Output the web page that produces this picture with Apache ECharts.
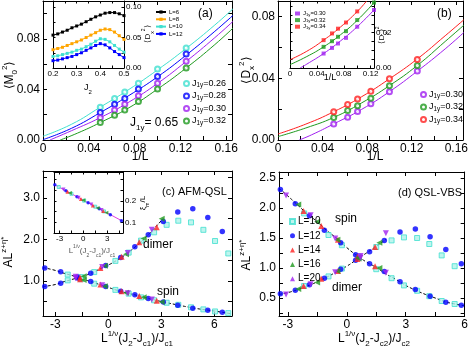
<!DOCTYPE html>
<html>
<head>
<meta charset="utf-8">
<script src="https://cdn.jsdelivr.net/npm/echarts@6/dist/echarts.min.js"></script>
<style>
  html, body { margin: 0; padding: 0; background: #fff; }
  #chart { width: 471px; height: 349px; }
</style>
</head>
<body>
<div id="chart"></div>
<script>
const FONT = '"Liberation Sans", Arial, sans-serif';

// ---------------- (a) <M0^2> vs 1/L ----------------
const invL = [0.05, 0.0625, 0.0714, 0.0833, 0.1, 0.125, 0.1667];
const aM026 = [0.0260, 0.0328, 0.0380, 0.0450, 0.0562, 0.0728, 0.1046];
const aM028 = [0.0217, 0.0283, 0.0328, 0.0403, 0.0503, 0.0680, 0.0993];
const aM030 = [0.0177, 0.0238, 0.0283, 0.0350, 0.0450, 0.0623, 0.0946];
const aM032 = [0.0138, 0.0196, 0.0238, 0.0305, 0.0403, 0.0570, 0.0893];
const aFit026 = [[0, 0.003], [0.025, 0.0125], [0.05, 0.026], [0.075, 0.040], [0.1, 0.0555], [0.125, 0.0725], [0.15, 0.091], [0.1667, 0.1045]];
const aFit028 = [[0, 0.0003], [0.025, 0.0093], [0.05, 0.0217], [0.075, 0.0352], [0.1, 0.0500], [0.125, 0.0672], [0.15, 0.0860], [0.1667, 0.0993]];
const aFit030 = [[0.006, 0], [0.025, 0.0074], [0.05, 0.0177], [0.075, 0.0300], [0.1, 0.0448], [0.125, 0.0622], [0.15, 0.0810], [0.1667, 0.0946]];
const aFit032 = [[0.015, 0], [0.03, 0.0054], [0.05, 0.0138], [0.075, 0.0255], [0.1, 0.0403], [0.125, 0.0570], [0.15, 0.0755], [0.1667, 0.0893]];

// inset (a): <Dx^2> vs J2
const j2 = [0.20, 0.22, 0.24, 0.26, 0.28, 0.30, 0.32, 0.34, 0.36, 0.38, 0.40, 0.42, 0.44, 0.46, 0.48, 0.50];
const dxL6 = [0.054, 0.056, 0.059, 0.062, 0.066, 0.069, 0.072, 0.076, 0.080, 0.084, 0.087, 0.090, 0.091, 0.091, 0.089, 0.086];
const dxL8 = [0.030, 0.032, 0.034, 0.037, 0.040, 0.043, 0.046, 0.050, 0.054, 0.058, 0.062, 0.064, 0.063, 0.059, 0.053, 0.047];
const dxL10 = [0.019, 0.020, 0.022, 0.024, 0.026, 0.029, 0.031, 0.035, 0.039, 0.044, 0.048, 0.047, 0.043, 0.037, 0.031, 0.026];
const dxL12 = [0.012, 0.013, 0.015, 0.017, 0.019, 0.022, 0.025, 0.029, 0.033, 0.037, 0.040, 0.038, 0.033, 0.027, 0.022, 0.017];

// ---------------- (b) <Dx^2> vs 1/L ----------------
const bD030 = [0.0104, 0.0148, 0.0185, 0.0235, 0.0313, 0.0446, 0.0696];
const bD032 = [0.0146, 0.0191, 0.0222, 0.0270, 0.0352, 0.0483, 0.0743];
const bD034 = [0.0183, 0.0230, 0.0265, 0.0315, 0.0396, 0.0522, 0.0778];
const bFit030 = [[0.019, 0], [0.03, 0.0033], [0.05, 0.0104], [0.075, 0.0198], [0.1, 0.0313], [0.125, 0.0446], [0.15, 0.0590], [0.1667, 0.0696]];
const bFit032 = [[0, 0.0022], [0.025, 0.0078], [0.05, 0.0146], [0.075, 0.0240], [0.1, 0.0352], [0.125, 0.0483], [0.15, 0.0638], [0.1667, 0.0743]];
const bFit034 = [[0, 0.0039], [0.025, 0.0103], [0.05, 0.0183], [0.075, 0.0280], [0.1, 0.0396], [0.125, 0.0525], [0.15, 0.0675], [0.1667, 0.0778]];

// inset (b): <Dx>^2 vs 1/L
const ibX = [0.05, 0.0625, 0.0714, 0.0833, 0.1, 0.125];
const ib030 = [0.0082, 0.0114, 0.0139, 0.0171, 0.0234, 0.0329];
const ib032 = [0.0120, 0.0152, 0.0177, 0.0209, 0.0272, 0.0371];
const ib034 = [0.0158, 0.0196, 0.0223, 0.0258, 0.0321];
const ibFit030 = [[0.015, 0], [0.025, 0.0022], [0.05, 0.0082], [0.075, 0.0153], [0.1, 0.0234], [0.125, 0.0329]];
const ibFit032 = [[0, 0.0019], [0.025, 0.0065], [0.05, 0.0120], [0.075, 0.0188], [0.1, 0.0270], [0.125, 0.0371]];
const ibFit034 = [[0, 0.0047], [0.025, 0.0095], [0.05, 0.0158], [0.075, 0.0232], [0.1, 0.0320], [0.114, 0.038]];

// ---------------- (c) AFM-QSL collapse ----------------
const cxL10 = [-2.3, -1.55, -0.8, 0.4, 1.15, 1.85, 2.59, 3.3, 3.96, 4.68, 5.38, 6.04, 6.79];
const cDimL10 = [1.01, 1.09, 1.21, 1.48, 1.68, 1.97, 2.17, 2.35, 2.45, 2.41, 2.23, 1.96, 1.66];
const cSpinL10 = [1.15, 1.04, 0.93, 0.78, 0.69, 0.60, 0.53, 0.47, 0.42, 0.36, 0.31, 0.26, 0.22];
const cxL12 = [-3.6, -2.7, -1.75, -1.0, -0.15, 0.7, 1.5, 2.26, 3.11, 3.93, 4.78, 5.63, 6.45];
const cDimL12 = [0.86, 0.94, 1.07, 1.18, 1.37, 1.56, 1.82, 2.11, 2.43, 2.66, 2.74, 2.53, 2.19];
const cSpinL12 = [1.31, 1.22, 1.09, 0.98, 0.86, 0.75, 0.66, 0.57, 0.49, 0.41, 0.34, 0.29, 0.24];
const cxL14 = [-1.6, -0.45, 0.75, 1.75, 2.74];
const cDimL14 = [1.08, 1.31, 1.58, 1.93, 2.29];
const cSpinL14 = [1.04, 0.91, 0.75, 0.63, 0.52];
const cxL16 = [-1.4, -0.2, 1.0, 2.0, 3.02];
const cDimL16 = [1.11, 1.36, 1.64, 2.02, 2.50];
const cSpinL16 = [1.02, 0.87, 0.71, 0.60, 0.49];
const cxL20 = [-1.85, -0.35, 1.1, 2.46];
const cDimL20 = [1.06, 1.33, 1.67, 2.23];
const cSpinL20 = [1.10, 0.89, 0.70, 0.55];
const cSpinCurve = [[-3.7, 1.32], [-3, 1.25], [-2.5, 1.18], [-2, 1.12], [-1.5, 1.05], [-1, 0.98], [-0.5, 0.91], [0, 0.84], [0.5, 0.77], [1, 0.71], [1.5, 0.66], [2, 0.61], [2.5, 0.55], [3, 0.50], [4, 0.41], [5, 0.33], [6, 0.27], [7, 0.20]];
const cDimCurve = [[-3.7, 0.86], [-3, 0.91], [-2.5, 0.98], [-2, 1.04], [-1.5, 1.10], [-1, 1.18], [-0.5, 1.28], [0, 1.38], [0.5, 1.50], [1, 1.64], [1.5, 1.81], [2, 2.00], [2.5, 2.22], [3.1, 2.50]];

// inset (c): xi_m / L
const icxL10 = [-3.1, -1.5, 0.1, 1.5, 2.6];
const icyL10 = [0.265, 0.233, 0.201, 0.173, 0.151];
const icxL12 = [-3.6, -2.2, -0.8, 0.6, 2.0, 3.4, 4.8];
const icyL12 = [0.275, 0.247, 0.219, 0.191, 0.163, 0.135, 0.107];
const icxL14 = [-2.0, -0.3, 1.2, 2.5];
const icyL14 = [0.243, 0.209, 0.179, 0.153];
const icxL16 = [-1.7, 0.0, 1.8, 2.9];
const icyL16 = [0.237, 0.203, 0.167, 0.145];
const icxL20 = [-2.5, -0.6, 1.0, 2.3];
const icyL20 = [0.253, 0.215, 0.183, 0.157];
const icLine = [[-3.7, 0.277], [4.9, 0.106]];

// ---------------- (d) QSL-VBS collapse ----------------
const dxL10c = [-2.17, -0.93, -0.25, 0.6, 1.5, 2.28, 2.91, 3.58, 4.2, 4.83, 5.49];
const dSpinL10 = [1.91, 1.55, 1.38, 1.19, 0.98, 0.83, 0.71, 0.62, 0.53, 0.45, 0.40];
const dDimL10 = [0.70, 0.86, 0.99, 1.17, 1.35, 1.46, 1.51, 1.50, 1.40, 1.21, 1.03];
const dxL12c = [-3.38, -2.62, -1.9, -1.14, -0.31, 0.45, 1.16, 1.91, 2.71, 3.49, 4.24, 5.04, 5.83];
const dSpinL12 = [2.31, 2.07, 1.87, 1.63, 1.42, 1.22, 1.07, 0.94, 0.77, 0.64, 0.53, 0.43, 0.38];
const dDimL12 = [0.57, 0.63, 0.72, 0.83, 0.98, 1.13, 1.27, 1.46, 1.60, 1.65, 1.52, 1.31, 1.07];
const dxL14c = [-2.2, -1.3, -0.45, 0.55, 1.44];
const dSpinL14 = [1.95, 1.70, 1.47, 1.19, 1.03];
const dDimL14 = [0.70, 0.82, 0.95, 1.15, 1.35];
const dxL16c = [-2.47, -1.51, -0.48, 0.6, 1.66];
const dSpinL16 = [2.06, 1.77, 1.47, 1.18, 1.00];
const dDimL16 = [0.65, 0.76, 0.95, 1.16, 1.42];
const dxL20c = [-3.09, -1.84, -0.59, 0.7, 1.99];
const dSpinL20 = [2.21, 1.88, 1.49, 1.17, 0.92];
const dDimL20 = [0.56, 0.73, 0.93, 1.20, 1.58];
const dSpinCurve = [[-3.45, 2.33], [-3, 2.2], [-2.5, 2.05], [-2, 1.9], [-1.5, 1.77], [-1, 1.62], [-0.5, 1.49], [0, 1.34], [0.5, 1.21], [1, 1.1], [1.5, 1.01], [2, 0.9], [2.5, 0.81], [3, 0.71], [3.5, 0.63], [4, 0.56], [4.5, 0.5], [5, 0.44], [5.5, 0.4], [6, 0.37]];
const dDimCurve = [[-3.45, 0.56], [-3, 0.59], [-2.5, 0.64], [-2, 0.7], [-1.5, 0.77], [-1, 0.85], [-0.5, 0.94], [0, 1.03], [0.5, 1.14], [1, 1.25], [1.5, 1.36], [2, 1.48]];

// ---------------- ticks ----------------
const tInvL = [0, 0.02, 0.04, 0.06, 0.08, 0.1, 0.12, 0.14, 0.16];
const lInvL = [0, 0.04, 0.08, 0.12, 0.16];
const tAy = [0, 0.02, 0.04, 0.06, 0.08, 0.1];
const tBy = [0, 0.02, 0.04, 0.06, 0.08];
const lABy = [0, 0.04, 0.08];
const tCDx = [-3, -1.5, 0, 1.5, 3, 4.5, 6];
const lCDx = [-3, 0, 3, 6];
const tCy = [0.5, 1, 1.5, 2, 2.5, 3, 3.5];
const lCy = [1, 2, 3];
const tDy = [0.25, 0.5, 0.75, 1, 1.25, 1.5, 1.75, 2, 2.25, 2.5];
const lDy = [0.5, 1, 1.5, 2, 2.5];
const tIAx = [0.2, 0.25, 0.3, 0.35, 0.4, 0.45, 0.5];
const lIAx = [0.2, 0.3, 0.4, 0.5];
const tIAy = [0, 0.025, 0.05, 0.075, 0.1];
const lIAy = [0, 0.05, 0.1];
const tIBx = [0, 0.02, 0.04, 0.06, 0.08, 0.1, 0.12];
const lIBx = [0, 0.04, 0.08, 0.12];
const tIBy = [0, 0.005, 0.01, 0.015, 0.02, 0.025, 0.03, 0.035];
const lIBy = [0, 0.02];
const tICx = [-3, -1.5, 0, 1.5, 3, 4.5];
const lICx = [-3, 0, 3];
const tICy = [0.1, 0.15, 0.2, 0.25, 0.3];
const lICy = [0.1, 0.2];

const COL = {
  cyan: '#40e0d0', blue: '#0000ff', purple: '#a020f0', green: '#1f9a1f',
  red: '#ff2020', orange: '#ffa500', black: '#000000'
};

const fx = (d) => (v) => (v === 0 ? '0' : v.toFixed(d));
const fy = (d) => (v) => v.toFixed(d);
const fi = (v) => String(Math.round(v));

// ---------------- grids & frame axes ----------------
const grid = [
  { left: 43, top: 1, width: 189, height: 139 },
  { left: 278, top: 1, width: 189, height: 139 },
  { left: 43, top: 171, width: 189, height: 145 },
  { left: 279, top: 172, width: 188, height: 144 },
  { left: 53, top: 1, width: 71, height: 67, show: true, backgroundColor: '#fff', borderWidth: 0, z: 3 },
  { left: 290, top: 1, width: 84, height: 67, show: true, backgroundColor: '#fff', borderWidth: 0, z: 3 },
  { left: 54, top: 172, width: 69, height: 61, show: true, backgroundColor: '#fff', borderWidth: 0, z: 3 }
];

const xAxis = [];
const yAxis = [];
function frame(gi, xr, yr, o) {
  const z = o.z || 0;
  const line = { show: true, onZero: false, lineStyle: { color: '#000', width: 1 } };
  const tick = (vals) => ({ show: true, inside: true, length: o.tick, customValues: vals, lineStyle: { color: '#000', width: 1 } });
  const lab = (vals, fmt, show) => show
    ? { show: true, customValues: vals, formatter: fmt, fontSize: o.fs, fontFamily: FONT, color: '#000', margin: o.margin }
    : { show: false };
  const base = { type: 'value', gridIndex: gi, axisLine: line, splitLine: { show: false }, z };
  const xi = xAxis.length;
  const yi = yAxis.length;
  xAxis.push(Object.assign({}, base, { position: 'bottom', min: xr[0], max: xr[1], axisTick: tick(o.xt), axisLabel: lab(o.xl, o.xf, true) }));
  xAxis.push(Object.assign({}, base, { position: 'top', min: xr[0], max: xr[1], axisTick: tick(o.xt), axisLabel: { show: false } }));
  yAxis.push(Object.assign({}, base, { position: 'left', min: yr[0], max: yr[1], axisTick: tick(o.yt), axisLabel: lab(o.yl, o.yf, !o.yRight) }));
  yAxis.push(Object.assign({}, base, { position: 'right', min: yr[0], max: yr[1], axisTick: tick(o.yt), axisLabel: lab(o.yl, o.yf, !!o.yRight) }));
  return { xAxisIndex: xi, yAxisIndex: yi };
}

const MAIN = { tick: 4, fs: 12, margin: 3 };
const INS = { tick: 2.5, fs: 8, margin: 2, yRight: true, z: 4 };
const ax = {
  a: frame(0, [0, 0.165], [0, 0.11], Object.assign({ xt: tInvL, xl: lInvL, xf: fx(2), yt: tAy, yl: lABy, yf: fy(2) }, MAIN)),
  b: frame(1, [0, 0.166], [0, 0.09], Object.assign({ xt: tInvL, xl: lInvL, xf: fx(2), yt: tBy, yl: lABy, yf: fy(2) }, MAIN)),
  c: frame(2, [-3.7, 7], [0.15, 3.65], Object.assign({ xt: tCDx, xl: lCDx, xf: fi, yt: tCy, yl: lCy, yf: fy(1) }, MAIN)),
  d: frame(3, [-3.45, 6], [0.2, 2.6], Object.assign({ xt: tCDx, xl: lCDx, xf: fi, yt: tDy, yl: lDy, yf: fy(1) }, MAIN)),
  ia: frame(4, [0.2, 0.5], [0, 0.11], Object.assign({ xt: tIAx, xl: lIAx, xf: fy(1), yt: tIAy, yl: lIAy, yf: fy(2) }, INS)),
  ib: frame(5, [0, 0.125], [0, 0.038], Object.assign({ xt: tIBx, xl: lIBx, xf: fx(2), yt: tIBy, yl: lIBy, yf: fy(2) }, INS)),
  ic: frame(6, [-3.7, 5.0], [0.05, 0.335], Object.assign({ xt: tICx, xl: lICx, xf: fi, yt: tICy, yl: lICy, yf: fy(1) }, INS))
};

// ---------------- series ----------------
const series = [];
const pairs = (xs, ys) => ys.map((y, i) => [xs[i], y]);

function fitLine(axes, data, color, z) {
  series.push(Object.assign({ type: 'line', data, smooth: true, showSymbol: false, silent: true,
    lineStyle: { color, width: 1 }, z: z || 2 }, axes));
}
function scatter(axes, name, data, symbol, size, style, extra) {
  series.push(Object.assign({ type: 'scatter', name, data, symbol, symbolSize: size, itemStyle: style, z: 3 }, axes, extra || {}));
}

// (a)
[[aFit026, COL.cyan], [aFit028, COL.blue], [aFit030, COL.purple], [aFit032, COL.green]]
  .forEach(([d, c]) => fitLine(ax.a, d, c));
[['a:0.26', aM026, COL.cyan], ['a:0.28', aM028, COL.blue], ['a:0.30', aM030, COL.purple], ['a:0.32', aM032, COL.green]]
  .forEach(([n, ys, c]) => scatter(ax.a, n, pairs(invL, ys), 'emptyCircle', 5, { color: c, borderWidth: 1 }));

// inset (a)
[['i:L=6', dxL6, COL.black], ['i:L=8', dxL8, COL.orange], ['i:L=10', dxL10, COL.cyan], ['i:L=12', dxL12, COL.blue]]
  .forEach(([n, ys, c]) => series.push(Object.assign({
    type: 'line', name: n, data: pairs(j2, ys), symbol: 'rect', symbolSize: 3, showSymbol: true,
    itemStyle: { color: c }, lineStyle: { color: c, width: 1 }, z: 6
  }, ax.ia)));

// (b)
[[bFit030, COL.purple], [bFit032, COL.green], [bFit034, COL.red]].forEach(([d, c]) => fitLine(ax.b, d, c));
[['b:0.30', bD030, COL.purple], ['b:0.32', bD032, COL.green], ['b:0.34', bD034, COL.red]]
  .forEach(([n, ys, c]) => scatter(ax.b, n, pairs(invL, ys), 'emptyCircle', 5, { color: c, borderWidth: 1 }));

// inset (b)
[[ibFit030, COL.purple], [ibFit032, COL.green], [ibFit034, COL.red]].forEach(([d, c]) => fitLine(ax.ib, d, c, 6));
[['j:0.30', ib030, COL.purple], ['j:0.32', ib032, COL.green], ['j:0.34', ib034, COL.red]]
  .forEach(([n, ys, c]) => scatter(ax.ib, n, pairs(ibX, ys), 'rect', 4, { color: c }, { z: 7 }));

// symbol styles per L
const LSTY = {
  L10: { symbol: 'rect', size: 5, style: { color: '#aef2ea', borderColor: COL.cyan, borderWidth: 1 } },
  L12: { symbol: 'circle', size: 5.5, style: { color: COL.blue } },
  L14: { symbol: 'triangle', size: 6, style: { color: COL.red } },
  L16: { symbol: 'triangle', size: 6, style: { color: COL.green }, rot: 90 },
  L20: { symbol: 'triangle', size: 6, style: { color: COL.purple }, rot: 180 }
};

// (c) dashed guides + points
series.push(Object.assign({ type: 'line', data: cSpinCurve, smooth: true, showSymbol: false, lineStyle: { color: '#000', width: 1, type: [3, 2] }, z: 2 }, ax.c));
series.push(Object.assign({ type: 'line', data: cDimCurve, smooth: true, showSymbol: false, lineStyle: { color: '#000', width: 1, type: [3, 2] }, z: 2 }, ax.c));
[['c:L10', cxL10, cDimL10, cSpinL10], ['c:L12', cxL12, cDimL12, cSpinL12], ['c:L14', cxL14, cDimL14, cSpinL14],
 ['c:L16', cxL16, cDimL16, cSpinL16], ['c:L20', cxL20, cDimL20, cSpinL20]]
  .forEach(([n, xs, dy, sy]) => {
    const s = LSTY[n.slice(2)];
    scatter(ax.c, n, pairs(xs, dy).concat(pairs(xs, sy)), s.symbol, s.size, s.style, { symbolRotate: s.rot || 0 });
  });

// inset (c)
series.push(Object.assign({ type: 'line', data: icLine, showSymbol: false, lineStyle: { color: '#e040e0', width: 1 }, z: 6 }, ax.ic));
[['k:L10', icxL10, icyL10], ['k:L12', icxL12, icyL12], ['k:L14', icxL14, icyL14], ['k:L16', icxL16, icyL16], ['k:L20', icxL20, icyL20]]
  .forEach(([n, xs, ys]) => {
    const s = LSTY[n.slice(2)];
    scatter(ax.ic, n, pairs(xs, ys), s.symbol, s.size - 2, s.style, { symbolRotate: s.rot || 0, z: 7 });
  });

// (d)
series.push(Object.assign({ type: 'line', data: dSpinCurve, smooth: true, showSymbol: false, lineStyle: { color: '#000', width: 1, type: [3, 2] }, z: 2 }, ax.d));
series.push(Object.assign({ type: 'line', data: dDimCurve, smooth: true, showSymbol: false, lineStyle: { color: '#000', width: 1, type: [3, 2] }, z: 2 }, ax.d));
[['d:L=10', 'L10', dxL10c, dDimL10, dSpinL10], ['d:L=12', 'L12', dxL12c, dDimL12, dSpinL12], ['d:L=14', 'L14', dxL14c, dDimL14, dSpinL14],
 ['d:L=16', 'L16', dxL16c, dDimL16, dSpinL16], ['d:L=20', 'L20', dxL20c, dDimL20, dSpinL20]]
  .forEach(([n, k, xs, dy, sy]) => {
    const s = LSTY[k];
    scatter(ax.d, n, pairs(xs, dy).concat(pairs(xs, sy)), s.symbol, s.size, s.style, { symbolRotate: s.rot || 0 });
  });

// ---------------- legends ----------------
const richSub = (fs, lh) => ({
  n: { fontSize: fs, fontFamily: FONT, color: '#000', lineHeight: lh },
  s: { fontSize: fs * 0.7, fontFamily: FONT, color: '#000', lineHeight: fs * 0.7, verticalAlign: 'bottom' }
});
const jLabel = (n) => '{n|J}{s|1y}{n|=' + n.split(':')[1] + '}';
const plain = (n) => '{n|' + n.split(':')[1] + '}';
function legend(names, left, top, iw, ih, gap, fs, lh, fmt) {
  return {
    data: names, left, top, orient: 'vertical', padding: 0, itemWidth: iw, itemHeight: ih, itemGap: gap,
    selectedMode: false, formatter: fmt, textStyle: { fontSize: fs, fontFamily: FONT, color: '#000', padding: [0, 0, 0, -2], rich: richSub(fs, lh) }
  };
}
const legends = [
  legend(['a:0.26', 'a:0.28', 'a:0.30', 'a:0.32'], 183, 79, 5, 5, 3, 9, 10, jLabel),
  legend(['b:0.30', 'b:0.32', 'b:0.34'], 420, 90, 5, 5, 3, 9, 10, jLabel),
  legend(['i:L=6', 'i:L=8', 'i:L=10', 'i:L=12'], 155, 9, 10, 4, 1.3, 6, 6, plain),
  legend(['j:0.30', 'j:0.32', 'j:0.34'], 295, 10.5, 5, 4, 0.6, 6, 6, jLabel),
  legend(['d:L=10', 'd:L=12', 'd:L=14', 'd:L=16', 'd:L=20'], 289, 216.5, 5, 5, 4.3, 10, 10, plain)
];

// ---------------- text (axis titles, annotations) ----------------
function richName(fs) {
  const sfs = Math.round(fs * 0.68);
  return {
    m: { fontSize: fs, fontFamily: FONT, fill: '#000', lineHeight: fs + 6 },
    sp: { fontSize: sfs, fontFamily: FONT, fill: '#000', lineHeight: sfs + 1, verticalAlign: 'top' },
    sb: { fontSize: sfs, fontFamily: FONT, fill: '#000', lineHeight: sfs + 1, verticalAlign: 'bottom' }
  };
}
function label(x, y, text, fs, o) {
  o = o || {};
  const rich = richName(fs);
  if (o.color) Object.keys(rich).forEach((k) => { rich[k].fill = o.color; });
  return {
    type: 'text', x, y, rotation: o.rot ? Math.PI / 2 : 0, z: 100, silent: true,
    style: { text, rich, fontSize: fs, fontFamily: FONT, fill: o.color || '#000', align: o.align || 'center', verticalAlign: 'middle' }
  };
}
const xName1 = '{m|L}{sp|1/ν}{m|(J}{sb|2}{m|-J}{sb|c1}{m|)/J}{sb|c1}';
const xName2 = '{m|L}{sp|1/ν}{m|(J}{sb|2}{m|-J}{sb|c2}{m|)/J}{sb|c2}';
const graphic = [
  label(10, 75, '{m|⟨M}{sb|0}{sp|2}{m|⟩}', 12, { rot: true }),
  label(140, 157, '{m|1/L}', 12),
  label(198, 14, '{m|(a)}', 12, { align: 'left' }),
  label(130, 123, '{m|J}{sb|1y}{m|= 0.65}', 12, { align: 'left' }),
  label(88, 88, '{m|J}{sb|2}', 9),
  label(148, 34, '{m|⟨D}{sb|x}{sp|2}{m|⟩}', 8, { rot: true }),

  label(247, 70, '{m|⟨D}{sb|x}{sp|2}{m|⟩}', 12, { rot: true }),
  label(375, 157, '{m|1/L}', 12),
  label(437, 14, '{m|(b)}', 12, { align: 'left' }),
  label(330, 78, '{m|1/L}', 9),
  label(382, 35, '{m|⟨D}{sb|x}{m|⟩}{sp|2}', 8, { rot: true }),

  label(9, 252, '{m|AL}{sp|z+η*}', 12, { rot: true }),
  label(137, 339, xName1, 12),
  label(162, 192, '{m|(c) AFM-QSL}', 11, { align: 'left' }),
  label(143, 245, '{m|dimer}', 12, { align: 'left' }),
  label(157, 292, '{m|spin}', 12, { align: 'left' }),
  label(92, 251, xName1, 8, { color: '#555' }),
  label(143, 203, '{m|ξ}{sb|m}{m|/L}', 8, { rot: true }),

  label(247, 255, '{m|AL}{sp|z+η*}', 12, { rot: true }),
  label(374, 339, xName2, 12),
  label(398, 193, '{m|(d) QSL-VBS}', 11, { align: 'left' }),
  label(335, 219, '{m|spin}', 12, { align: 'left' }),
  label(332, 288, '{m|dimer}', 12, { align: 'left' })
];

const chart = echarts.init(document.getElementById('chart'), null, { renderer: 'canvas' });
chart.setOption({
  animation: false,
  backgroundColor: '#fff',
  grid, xAxis, yAxis, series,
  legend: legends,
  graphic
});
</script>
</body>
</html>
